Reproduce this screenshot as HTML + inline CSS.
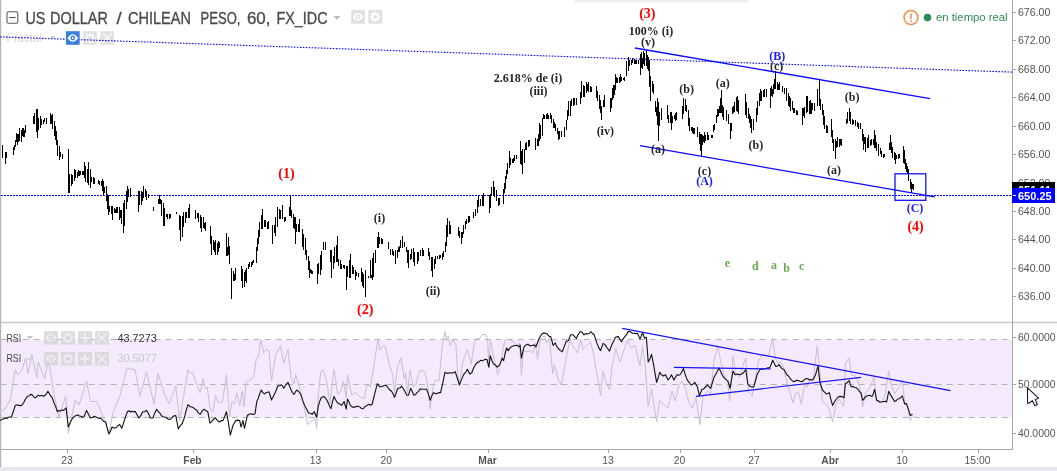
<!DOCTYPE html><html><head><meta charset="utf-8"><title>USDCLP</title><style>
html,body{margin:0;padding:0;background:#fff;}body{width:1057px;height:471px;overflow:hidden;position:relative;font-family:"Liberation Sans",sans-serif;}
svg{position:absolute;left:0;top:0;display:block;will-change:transform;transform:translateZ(0)}
text{font-family:"Liberation Sans",sans-serif}
.s{font-family:"Liberation Serif",serif;font-weight:bold;font-size:12px;text-anchor:middle;dominant-baseline:central}
.ax{font-size:10px;fill:#555}
.tm{font-size:10.3px;fill:#555;text-anchor:middle}
.tt{font-size:16.3px;fill:#4c4c4c;stroke:#4c4c4c;stroke-width:0.35px}
</style></head><body>
<svg width="1057" height="471" viewBox="0 0 1057 471">
<defs><linearGradient id="sh" x1="0" y1="0" x2="0" y2="1"><stop offset="0" stop-color="#e9e9e9"/><stop offset="1" stop-color="#ffffff"/></linearGradient></defs>
<rect width="1057" height="471" fill="#fff"/>
<rect x="574" y="0" width="174" height="4" rx="2" fill="url(#sh)"/>
<rect x="1" y="340" width="1011" height="77.5" fill="#f5e9fd"/>
<line x1="0.7" x2="1012" y1="339.5" y2="339.5" stroke="#b4b4b4" stroke-width="1" stroke-dasharray="6,5"/>
<line x1="0.7" x2="1012" y1="384.5" y2="384.5" stroke="#b4b4b4" stroke-width="1" stroke-dasharray="6,5"/>
<line x1="0.7" x2="1012" y1="417.5" y2="417.5" stroke="#b4b4b4" stroke-width="1" stroke-dasharray="6,5"/>
<line x1="0" x2="1057" y1="322.5" y2="322.5" stroke="#c8c8c8" stroke-width="1.5"/>
<line x1="0" x2="1012" y1="449.5" y2="449.5" stroke="#a8a8a8" stroke-width="1"/>
<line x1="1012.5" x2="1012.5" y1="0" y2="450" stroke="#a8a8a8" stroke-width="1"/>
<rect x="0" y="0" width="1.2" height="467" fill="#b4b4b4"/>
<rect x="0" y="467" width="1057" height="4" fill="#e6e9ee"/>
<text x="6.6" y="42" font-size="12" fill="#d8d8d8" textLength="35.4" lengthAdjust="spacingAndGlyphs">Fractal</text><path d="M49.6 36h6.2l-3.1 2.9z" fill="#d0d0d0"/>
<rect x="83.2" y="31.2" width="13.7" height="13.6" fill="#dcdcdc" fill-opacity="0.85"/><rect x="100.3" y="31.2" width="13.7" height="13.6" fill="#dcdcdc" fill-opacity="0.85"/>
<g opacity="0.8"><path d="M92.55 38.00L95.10 38.00M91.82 39.77L93.62 41.57M90.05 40.50L90.05 43.05M88.28 39.77L86.48 41.57M87.55 38.00L85.00 38.00M88.28 36.23L86.48 34.43M90.05 35.50L90.05 32.95M91.82 36.23L93.62 34.43" stroke="#fff" stroke-width="2.1" fill="none"/><circle cx="90.0" cy="38.0" r="3.6" fill="#fff"/><circle cx="90.0" cy="38.0" r="1.95" fill="#dcdcdc"/></g>
<path d="M102.7 33.5l9 9M111.7 33.5l-9 9" stroke="#fff" stroke-width="1.7" opacity="0.8"/>
<line x1="0" y1="36.9" x2="1012" y2="72.1" stroke="#0a0aff" stroke-width="1.1" stroke-dasharray="1.6,1.4"/>
<line x1="1" y1="195.5" x2="1012" y2="195.5" stroke="#0000ff" stroke-width="1" stroke-dasharray="2,1" shape-rendering="crispEdges"/>
<path d="M2.5 145V158M5.5 152V164M6.5 152V158M13.5 147V155M14.5 145V150M15.5 140V147M16.5 133V142M17.5 134V145M18.5 134V142M19.5 128V141M21.5 130V142M22.5 128V136M23.5 128V137M24.5 130V137M25.5 125V133M33.5 116V124M34.5 113V124M36.5 109V132M37.5 109V138M38.5 118V130M40.5 116V128M41.5 119V125M43.5 120V124M44.5 118V122M46.5 118V124M50.5 113V124M51.5 115V124M52.5 114V129M54.5 121V136M55.5 126V140M56.5 131V145M57.5 140V156M59.5 146V160M60.5 152V157M62.5 154V159M68.5 149V193M69.5 174V193M71.5 174V186M72.5 175V184M74.5 169V181M75.5 170V178M77.5 172V178M78.5 170V176M79.5 171V176M80.5 171V175M82.5 171V175M83.5 171V175M84.5 162V178M85.5 166V182M87.5 169V183M88.5 162V185M90.5 169V188M91.5 177V182M93.5 177V184M94.5 178V184M98.5 180V184M99.5 181V185M101.5 181V186M102.5 179V191M103.5 181V195M104.5 187V193M106.5 186V201M107.5 194V209M108.5 195V215M109.5 206V212M111.5 206V214M112.5 206V220M114.5 208V213M115.5 209V213M116.5 207V213M117.5 207V213M119.5 207V220M120.5 210V218M121.5 210V224M123.5 203V233M124.5 200V226M126.5 191V209M127.5 186V202M128.5 189V197M130.5 188V197M138.5 191V212M139.5 191V205M141.5 191V205M142.5 192V201M143.5 186V198M145.5 189V197M146.5 191V200M148.5 194V198M153.5 207V211M158.5 199V204M159.5 195V204M160.5 199V204M161.5 200V216M163.5 203V226M164.5 208V226M166.5 214V217M167.5 214V219M169.5 214V219M170.5 214V218M176.5 212V214M176.5 212V214M179.5 215V230M180.5 216V241M182.5 216V237M183.5 212V227M185.5 212V223M186.5 212V218M188.5 208V218M189.5 204V218M195.5 210V219M197.5 213V218M198.5 213V222M200.5 215V228M201.5 217V232M203.5 217V228M204.5 223V229M205.5 222V231M210.5 226V244M211.5 236V255M213.5 240V250M214.5 242V252M215.5 240V255M217.5 243V255M218.5 241V252M219.5 242V248M226.5 233V256M227.5 247V256M228.5 237V255M229.5 246V264M231.5 268V299M233.5 271V281M234.5 274V281M235.5 268V280M241.5 266V281M242.5 269V288M244.5 272V287M245.5 270V281M246.5 268V283M248.5 264V269M249.5 262V267M251.5 262V267M252.5 261V265M253.5 260V263M256.5 247V263M257.5 238V251M258.5 230V244M259.5 222V237M261.5 215V229M262.5 209V229M264.5 220V227M265.5 220V227M267.5 222V229M268.5 221V229M272.5 225V244M274.5 225V233M275.5 217V236M277.5 207V227M279.5 209V219M280.5 210V219M282.5 205V219M284.5 217V222M285.5 217V221M289.5 207V216M290.5 196V216M291.5 210V218M293.5 214V228M294.5 217V229M295.5 217V244M296.5 224V232M298.5 224V232M299.5 219V232M302.5 229V247M303.5 234V250M305.5 238V255M306.5 250V260M308.5 256V270M309.5 261V278M310.5 269V273M311.5 270V274M312.5 271V274M317.5 264V284M318.5 263V274M320.5 255V275M321.5 251V270M323.5 242V250M325.5 242V250M330.5 250V262M331.5 250V278M333.5 256V269M334.5 247V263M336.5 245V262M337.5 236V262M338.5 259V266M340.5 260V269M341.5 264V269M343.5 265V268M344.5 265V269M346.5 266V290M347.5 266V277M349.5 260V278M350.5 254V278M352.5 265V274M353.5 267V274M355.5 270V280M356.5 272V276M358.5 273V277M361.5 268V282M362.5 272V286M363.5 274V288M365.5 270V297M368.5 276V278M370.5 275V278M371.5 275V278M370.5 260V277M372.5 258V280M373.5 253V277M375.5 250V263M377.5 237V248M378.5 232V248M379.5 237V244M381.5 238V244M382.5 239V244M388.5 242V249M390.5 249V255M392.5 249V255M393.5 251V256M395.5 250V264M397.5 250V258M398.5 247V252M399.5 246V252M400.5 240V248M402.5 236V248M404.5 242V247M406.5 247V252M407.5 250V263M408.5 250V268M410.5 254V260M411.5 249V259M413.5 248V262M414.5 252V266M417.5 252V264M418.5 252V261M420.5 250V256M422.5 248V256M423.5 250V256M428.5 248V256M429.5 252V260M431.5 257V271M432.5 257V277M434.5 259V269M435.5 256V264M437.5 256V259M439.5 255V259M440.5 255V258M442.5 253V260M443.5 251V257M445.5 242V252M446.5 238V246M446.5 225V238M447.5 218V237M449.5 221V234M450.5 225V234M458.5 227V236M459.5 231V238M461.5 232V244M462.5 232V238M463.5 225V234M465.5 221V229M466.5 219V224M468.5 216V223M469.5 216V222M473.5 212V218M475.5 209V216M477.5 200V213M478.5 195V207M480.5 199V206M482.5 196V206M483.5 193V206M489.5 195V213M490.5 194V208M491.5 187V196M493.5 181V196M494.5 187V197M496.5 190V201M498.5 198V206M499.5 198V205M503.5 189V204M504.5 183V193M505.5 176V189M506.5 170V179M507.5 163V174M509.5 151V168M510.5 158V165M512.5 159V163M513.5 158V163M514.5 155V161M516.5 155V159M520.5 141V164M521.5 151V165M522.5 149V174M524.5 149V163M525.5 143V150M526.5 142V150M528.5 140V147M529.5 140V146M535.5 138V150M537.5 139V146M538.5 134V146M539.5 123V141M540.5 125V139M542.5 118V136M543.5 114V119M544.5 115V119M546.5 114V119M547.5 113V119M548.5 115V119M550.5 113V119M551.5 115V123M553.5 119V128M554.5 122V128M555.5 124V131M557.5 128V134M558.5 131V140M559.5 131V139M561.5 131V137M564.5 127V137M566.5 120V130M567.5 110V120M568.5 101V116M570.5 101V116M571.5 99V106M573.5 98V106M574.5 98V105M576.5 98V105M580.5 92V104M581.5 81V98M583.5 85V97M584.5 86V97M586.5 82V93M587.5 84V91M588.5 82V92M590.5 86V92M591.5 87V92M596.5 86V98M597.5 91V101M599.5 95V109M600.5 100V113M601.5 106V120M603.5 100V107M604.5 95V107M610.5 98V112M611.5 98V108M612.5 88V100M614.5 85V95M613.5 85V98M615.5 74V90M616.5 77V83M617.5 78V83M619.5 77V83M620.5 74V82M621.5 77V81M623.5 78V80M624.5 77V81M626.5 61V76M628.5 57V71M629.5 60V66M631.5 60V65M632.5 58V63M634.5 59V64M635.5 60V64M636.5 60V64M638.5 60V64M640.5 54V75M641.5 52V68M642.5 58V69M643.5 51V64M644.5 53V66M646.5 50V66M647.5 55V69M648.5 57V71M649.5 60V74M649.5 73V87M650.5 76V101M652.5 81V92M653.5 84V94M655.5 101V112M656.5 107V116M657.5 98V125M658.5 102V141M659.5 112V126M661.5 108V120M667.5 105V119M668.5 115V123M670.5 112V123M671.5 112V130M672.5 116V123M674.5 115V119M675.5 113V121M676.5 112V120M682.5 106V119M683.5 98V114M685.5 99V111M686.5 105V112M688.5 110V126M689.5 118V131M691.5 127V131M692.5 127V133M693.5 128V134M694.5 128V134M697.5 127V137M699.5 132V144M700.5 134V151M701.5 134V156M702.5 135V145M703.5 136V142M704.5 132V143M705.5 135V141M707.5 132V140M708.5 135V140M711.5 135V138M712.5 135V138M713.5 125V132M714.5 124V130M716.5 115V123M717.5 109V117M718.5 109V116M719.5 106V113M720.5 98V113M721.5 90V113M722.5 105V117M723.5 107V120M726.5 110V121M728.5 114V124M730.5 123V139M731.5 123V131M732.5 107V114M733.5 106V113M734.5 102V112M736.5 97V111M737.5 96V112M738.5 100V114M745.5 94V115M746.5 102V118M748.5 108V119M749.5 114V123M750.5 116V128M751.5 119V133M753.5 119V130M756.5 108V122M757.5 101V115M759.5 93V106M760.5 89V101M761.5 91V101M763.5 90V97M764.5 89V97M766.5 89V97M770.5 88V108M771.5 86V96M772.5 89V97M773.5 84V94M774.5 79V89M775.5 71V89M777.5 82V90M778.5 84V90M779.5 82V90M782.5 86V92M784.5 88V94M786.5 88V101M788.5 93V106M789.5 96V107M790.5 98V111M792.5 101V110M793.5 108V113M794.5 108V113M796.5 110V115M797.5 111V115M802.5 108V125M803.5 108V116M804.5 107V118M806.5 96V113M807.5 96V112M809.5 101V114M810.5 100V114M811.5 103V114M812.5 103V110M814.5 103V111M817.5 89V106M819.5 79V106M820.5 99V110M822.5 104V115M823.5 110V125M824.5 116V129M826.5 125V133M827.5 126V133M831.5 119V137M832.5 130V143M833.5 139V151M835.5 139V159M836.5 141V148M837.5 137V147M839.5 139V147M840.5 139V145M841.5 139V146M846.5 119V124M847.5 112V123M849.5 108V121M850.5 112V124M852.5 119V125M853.5 120V124M855.5 120V126M857.5 122V127M858.5 123V129M860.5 123V129M862.5 129V141M863.5 134V150M864.5 137V144M865.5 137V152M867.5 138V148M868.5 135V148M870.5 140V146M871.5 139V145M873.5 139V145M874.5 130V148M875.5 135V148M876.5 142V151M878.5 144V156M880.5 148V154M881.5 151V157M883.5 154V158M884.5 154V157M889.5 143V150M890.5 135V150M891.5 142V153M892.5 147V158M894.5 152V160M895.5 153V164M896.5 155V159M898.5 154V159M899.5 154V158M903.5 146V163M904.5 150V164M905.5 159V169M906.5 163V172M907.5 166V174M908.5 169V181M910.5 179V189M911.5 182V193M912.5 184V189M913.5 184V190" stroke="#000" stroke-width="1" fill="none" shape-rendering="crispEdges"/>
<line x1="635" y1="48" x2="930" y2="98.6" stroke="#0a0aff" stroke-width="1.3"/>
<line x1="640" y1="145.6" x2="934.7" y2="196.8" stroke="#0a0aff" stroke-width="1.3"/>
<rect x="895" y="173.8" width="30.8" height="26.5" fill="none" stroke="#1111ee" stroke-width="1.3"/>
<polyline points="0.0,411.7 5.0,409.0 10.2,400.0 15.3,369.7 17.8,374.8 21.7,371.0 25.5,358.0 28.0,373.5 31.8,354.4 36.9,377.3 38.2,362.0 44.6,378.6 48.4,359.5 53.5,391.0 58.6,416.8 65.7,396.4 68.3,433.4 75.2,400.0 79.0,405.0 86.6,381.0 90.4,401.5 96.8,401.5 102.0,414.0 109.0,432.0 113.4,411.7 119.7,396.4 126.9,368.4 135.0,369.7 140.0,396.4 146.5,372.0 154.0,404.0 158.0,373.5 164.3,394.0 169.4,404.0 175.8,386.0 179.6,420.6 188.0,369.7 190.0,373.5 192.5,372.2 196.4,383.7 200.2,392.6 203.2,378.6 205.3,388.8 207.3,387.5 209.9,407.9 212.9,411.7 215.5,395.2 218.5,402.8 222.6,401.5 226.4,374.8 229.5,416.8 232.0,401.5 234.6,404.0 236.6,392.6 239.7,405.4 242.2,391.3 244.0,406.6 246.0,382.4 249.9,379.9 253.7,377.3 256.2,359.5 258.3,357.0 260.8,339.9 263.9,353.0 265.9,349.3 269.0,350.6 271.5,381.0 275.4,355.7 280.4,345.5 283.8,363.3 288.0,349.3 291.0,377.3 294.0,383.7 295.7,374.8 299.6,386.8 303.4,404.0 307.7,424.5 312.3,420.6 314.8,418.0 316.6,428.3 318.2,396.4 320.7,372.2 323.0,369.7 326.3,379.9 330.0,402.8 334.0,369.7 337.8,393.9 340.8,391.3 343.4,381.0 346.2,397.7 347.5,374.8 351.8,395.2 355.6,392.6 359.4,396.4 364.0,399.0 367.0,385.0 370.4,386.8 374.0,364.6 378.0,339.0 379.8,350.0 383.8,345.5 385.6,348.0 389.0,363.3 392.7,374.8 394.5,393.9 397.3,367.1 401.0,358.2 404.2,378.6 405.5,373.0 407.5,392.6 410.0,369.7 413.0,386.8 415.7,385.0 418.2,374.8 420.8,369.7 424.6,372.2 427.0,381.0 430.2,409.2 433.5,383.7 436.0,379.9 439.0,381.0 442.4,345.5 445.0,331.5 446.8,340.4 448.3,335.8 450.0,345.5 452.6,339.9 455.9,344.2 457.7,374.8 459.5,382.4 462.8,362.0 467.4,349.3 471.2,363.8 474.3,342.9 476.8,338.3 479.4,339.1 482.0,334.5 485.7,334.5 487.5,339.1 489.0,367.1 490.3,339.1 493.4,355.7 497.7,374.8 501.0,360.8 504.8,340.4 507.4,339.1 510.4,340.4 513.8,341.7 517.6,345.5 519.6,342.9 521.4,374.8 523.4,350.6 526.5,351.8 530.3,350.6 532.9,353.1 535.4,342.9 537.5,359.5 540.0,339.1 544.3,335.8 546.9,342.9 549.4,337.8 552.7,373.5 554.5,364.6 558.3,379.9 561.4,385.0 564.7,365.9 568.0,349.3 570.0,338.3 572.5,345.5 577.6,353.1 580.7,339.1 582.7,349.3 586.6,345.5 590.4,341.7 593.4,353.1 596.8,373.5 600.6,395.2 603.1,371.0 605.7,381.0 609.5,390.0 612.0,367.1 615.9,348.0 619.7,362.0 622.2,355.7 627.3,340.4 631.0,348.0 635.0,345.5 640.0,365.9 642.6,345.5 645.2,365.9 648.2,406.6 651.5,388.8 656.6,421.9 659.7,400.3 663.0,404.0 668.0,407.9 672.0,391.3 675.0,401.0 679.0,385.0 682.0,381.0 685.2,387.5 688.5,401.5 692.3,407.9 696.0,397.7 700.0,424.5 703.0,396.4 707.6,391.3 710.6,393.9 714.0,360.8 717.8,345.5 720.3,359.5 724.0,374.8 727.5,381.0 729.7,401.5 733.0,356.2 735.6,373.5 739.4,377.3 743.2,364.6 745.8,358.2 748.3,391.3 752.2,396.4 756.0,374.8 758.5,360.8 762.4,354.4 765.0,355.7 769.0,354.4 772.7,337.8 775.3,358.2 777.8,363.3 780.4,362.0 783.0,365.4 786.8,382.4 790.0,392.6 793.0,402.8 796.2,392.6 798.7,392.6 801.3,404.0 804.6,383.7 807.0,387.5 809.7,378.6 813.0,381.0 817.3,345.5 819.9,371.0 822.4,401.5 825.7,404.0 828.8,407.9 832.6,421.9 836.0,404.0 839.0,399.0 843.6,406.6 845.4,363.3 849.2,358.2 851.2,374.8 855.5,376.0 859.4,385.0 862.7,406.6 865.7,392.6 869.6,388.8 874.0,377.3 876.7,401.5 881.0,402.8 884.8,396.4 888.7,371.0 891.2,385.0 894.5,393.9 898.9,387.5 902.2,379.9 904.7,401.5 907.8,407.9 910.3,420.6 912.4,415.5" fill="none" stroke="#c9bfd0" stroke-width="1"/>
<polyline points="0.0,420.6 1.7,419.6 3.3,419.0 5.0,418.0 6.6,418.5 8.2,417.3 9.9,417.1 11.5,416.8 13.4,411.3 15.3,405.4 16.9,404.8 18.5,405.4 20.1,405.6 21.7,405.4 23.6,402.7 25.5,399.0 27.2,396.7 28.9,395.6 30.6,394.4 32.3,394.8 34.0,397.2 35.7,397.7 38.2,395.2 39.9,395.9 41.6,395.2 43.3,396.4 44.8,395.6 46.4,393.8 47.9,391.3 50.0,394.8 52.2,397.7 53.9,402.6 55.6,406.4 57.3,411.7 58.9,410.5 60.5,411.1 62.1,409.9 63.7,410.4 66.2,407.9 68.3,427.0 70.4,421.9 72.6,418.0 74.5,416.3 76.4,415.5 77.9,414.9 79.4,416.0 81.0,416.2 82.5,417.2 84.0,416.8 86.6,410.4 88.5,414.2 90.4,418.0 92.3,417.4 94.3,416.3 95.8,416.9 97.4,417.8 98.9,418.1 100.5,418.4 102.0,419.4 103.8,421.5 105.7,421.9 107.3,428.8 109.0,434.0 110.5,431.1 112.0,427.0 114.0,427.9 116.0,428.0 117.8,425.9 119.7,424.5 121.8,428.3 123.7,422.3 125.5,416.9 127.4,411.7 128.9,410.8 130.4,412.0 132.0,411.2 133.5,411.9 135.0,411.2 136.9,414.4 138.9,418.0 140.8,415.7 142.7,411.7 144.6,411.7 146.5,410.4 148.4,413.3 150.3,418.0 152.9,418.0 154.8,413.1 156.7,409.2 158.3,411.8 159.8,412.9 161.4,415.8 163.0,416.8 164.6,417.3 166.2,417.3 167.8,419.0 169.4,419.4 171.0,418.9 172.6,417.0 174.2,415.7 175.8,415.5 178.3,429.0 180.0,425.9 181.7,424.2 183.4,420.6 184.9,415.7 186.5,409.2 188.0,404.6 190.0,406.6 191.7,407.0 193.3,407.6 195.0,409.2 196.7,410.1 198.5,413.1 200.2,414.3 202.1,411.2 204.0,409.2 205.9,410.6 207.8,411.7 209.9,423.2 211.8,421.4 213.6,419.2 215.5,418.0 217.4,420.4 219.3,422.0 221.2,420.6 223.0,420.6 224.7,416.4 226.4,411.7 228.4,422.7 230.3,435.0 231.8,429.6 233.3,424.5 235.9,420.6 237.8,420.1 239.7,420.6 241.0,427.0 243.0,420.6 244.5,428.3 247.3,415.5 249.2,414.2 251.0,413.8 253.0,414.6 255.0,413.8 256.8,401.5 258.3,398.2 259.8,393.5 261.3,390.0 262.9,392.6 264.4,393.9 265.9,392.7 267.5,392.3 269.0,391.8 271.5,400.0 274.0,395.0 275.9,391.0 277.9,385.7 279.8,385.6 281.7,385.0 283.8,388.3 285.9,384.6 288.0,382.4 290.6,388.8 292.3,392.5 294.0,394.4 295.5,391.7 297.0,390.0 298.9,391.8 300.8,394.4 302.7,400.4 304.6,405.4 306.6,408.9 308.5,413.0 310.4,413.3 312.3,414.3 314.3,411.7 316.6,417.3 318.2,406.6 319.7,401.4 321.2,397.7 323.8,396.4 325.7,398.2 327.6,401.5 329.2,405.2 330.9,408.7 332.4,402.1 334.0,396.4 335.6,399.8 337.3,402.8 339.5,403.9 341.6,405.4 344.1,401.5 346.2,409.2 347.5,399.0 349.0,402.1 350.5,405.4 352.4,407.1 354.3,407.1 356.2,406.6 358.2,406.1 359.9,407.1 361.5,408.5 363.2,408.7 365.1,406.5 367.0,405.4 368.7,404.3 370.5,405.2 372.2,404.0 374.7,393.9 377.3,383.7 379.8,386.8 381.7,386.8 383.6,385.7 385.1,385.2 386.7,385.7 389.0,389.3 391.5,391.3 393.0,393.7 394.5,397.2 396.1,393.2 397.8,388.3 399.8,388.0 401.7,386.2 404.2,390.0 406.8,395.2 408.5,395.2 410.6,388.3 412.2,391.2 413.9,395.2 415.4,394.7 416.9,392.6 418.6,391.4 420.3,388.8 421.8,389.2 423.3,389.3 425.0,389.2 426.6,389.3 428.4,394.1 430.2,400.3 431.9,395.6 433.5,392.6 435.4,393.8 437.3,393.4 439.0,392.5 440.6,392.6 442.8,382.8 445.0,372.2 447.5,373.5 449.4,372.8 451.3,373.0 453.2,372.9 455.2,371.7 457.4,378.5 459.5,385.0 461.1,380.4 462.8,376.6 464.3,373.5 465.9,372.1 467.4,369.2 469.7,374.0 471.7,373.0 473.6,368.0 475.5,364.6 477.2,362.7 478.9,361.8 480.6,360.3 482.2,360.7 483.8,360.1 485.4,359.3 487.0,359.5 488.8,367.1 490.3,355.7 491.9,360.5 493.4,363.8 495.3,364.9 497.2,367.1 499.7,364.6 502.3,358.2 503.6,360.8 505.1,353.5 506.6,348.0 508.2,350.6 509.7,348.3 511.2,346.8 513.1,346.1 515.0,345.5 517.0,345.4 518.9,346.8 520.1,345.0 521.4,358.2 524.0,346.8 525.9,344.9 527.8,344.2 530.3,346.0 532.2,345.3 534.1,345.0 535.9,346.8 537.5,342.7 539.2,338.3 541.8,334.0 543.7,332.9 545.6,333.2 547.3,334.1 549.0,336.2 550.7,336.6 553.2,345.5 555.3,342.9 556.8,346.6 558.3,348.5 560.2,350.4 562.2,351.8 564.1,347.1 566.0,341.7 568.5,340.4 570.6,334.8 573.0,334.8 574.7,336.7 576.4,338.3 578.3,334.3 580.2,331.5 582.1,332.3 584.0,334.8 585.9,333.5 587.8,334.0 589.3,333.5 590.9,331.5 592.5,333.5 594.2,334.8 596.8,342.9 598.7,347.6 600.6,350.6 603.1,343.4 605.0,344.6 606.9,347.5 609.5,351.1 612.0,344.2 613.7,341.0 615.4,337.3 616.9,336.9 618.4,336.6 620.0,339.6 621.5,341.7 623.1,338.8 624.8,336.6 626.4,334.9 628.0,331.5 630.2,331.6 632.4,333.2 634.1,333.3 635.8,333.6 637.5,333.2 640.0,339.1 642.6,332.7 644.6,338.3 646.4,337.3 648.2,362.0 649.9,358.9 651.5,354.4 653.6,364.6 655.1,373.9 656.6,382.4 658.2,377.7 659.7,372.2 661.4,374.6 663.0,376.0 665.5,374.8 668.0,379.9 669.7,378.1 671.4,374.8 674.0,379.9 675.5,377.1 677.0,374.8 678.5,375.1 680.0,374.8 681.7,372.3 683.4,368.4 685.3,374.8 687.2,379.9 689.1,382.3 691.0,385.0 692.9,384.2 694.8,382.4 697.4,386.8 699.4,395.9 702.0,389.3 703.5,389.1 705.0,387.5 707.6,385.0 709.1,386.8 710.6,388.3 712.3,383.0 714.0,377.3 716.5,373.0 719.0,367.9 720.7,371.5 722.4,375.5 723.9,377.4 725.4,379.1 728.0,381.1 730.0,388.3 731.5,379.8 733.0,371.0 735.0,374.8 737.2,374.0 739.4,374.8 741.3,374.2 743.2,373.0 745.8,369.7 747.8,383.7 749.4,386.1 751.0,386.8 752.5,387.2 754.0,386.2 755.6,380.5 757.3,374.0 759.8,369.7 761.7,369.1 763.6,368.9 765.5,368.8 767.5,367.9 769.7,367.9 771.2,364.2 772.7,360.3 774.2,363.2 775.8,366.4 777.4,366.1 779.0,364.6 781.7,368.4 784.2,369.7 786.8,374.8 788.7,376.2 790.6,379.1 792.5,380.9 794.4,381.7 796.3,380.3 798.2,380.6 800.1,381.3 802.0,381.7 804.0,380.1 805.9,378.6 807.8,378.8 809.7,379.9 811.6,379.9 813.5,379.1 815.5,374.8 818.0,365.9 819.9,382.4 822.4,390.0 824.3,391.9 826.2,393.9 827.8,393.5 829.3,392.6 831.0,399.8 832.6,405.4 834.5,401.8 836.4,399.0 838.3,396.8 840.3,396.4 842.1,396.7 844.0,397.7 845.4,383.7 847.3,382.5 849.2,380.6 851.2,386.8 853.0,386.6 854.8,387.5 856.4,387.8 858.0,389.3 859.5,391.7 861.0,392.6 862.7,400.3 864.2,398.6 865.7,396.4 867.7,395.7 869.6,395.2 871.1,396.3 872.6,395.9 874.6,389.3 876.7,400.3 878.2,400.8 879.7,402.0 881.7,402.0 883.6,401.5 885.1,401.2 886.6,402.0 888.7,391.3 891.2,395.9 892.9,398.6 894.5,401.5 896.0,400.8 897.6,399.0 899.1,398.7 900.7,397.6 902.2,395.9 904.7,404.0 906.5,403.6 908.4,409.3 910.3,415.5 912.4,414.3" fill="none" stroke="#111" stroke-width="1.1" stroke-linejoin="round"/>
<line x1="622.2" y1="328.4" x2="950.5" y2="390.6" stroke="#1414f5" stroke-width="1.2"/>
<line x1="674" y1="367.4" x2="770.5" y2="368.9" stroke="#1414f5" stroke-width="1.2"/>
<line x1="696" y1="396.4" x2="861" y2="377.3" stroke="#1414f5" stroke-width="1.2"/>
<line x1="1013" x2="1016" y1="12.5" y2="12.5" stroke="#a8a8a8"/>
<text class="ax" x="1017.9" y="16.0" textLength="32.4" lengthAdjust="spacingAndGlyphs">676.00</text>
<line x1="1013" x2="1016" y1="40.5" y2="40.5" stroke="#a8a8a8"/>
<text class="ax" x="1017.9" y="44.4" textLength="32.4" lengthAdjust="spacingAndGlyphs">672.00</text>
<line x1="1013" x2="1016" y1="69.5" y2="69.5" stroke="#a8a8a8"/>
<text class="ax" x="1017.9" y="72.8" textLength="32.4" lengthAdjust="spacingAndGlyphs">668.00</text>
<line x1="1013" x2="1016" y1="97.5" y2="97.5" stroke="#a8a8a8"/>
<text class="ax" x="1017.9" y="101.2" textLength="32.4" lengthAdjust="spacingAndGlyphs">664.00</text>
<line x1="1013" x2="1016" y1="126.5" y2="126.5" stroke="#a8a8a8"/>
<text class="ax" x="1017.9" y="129.6" textLength="32.4" lengthAdjust="spacingAndGlyphs">660.00</text>
<line x1="1013" x2="1016" y1="154.5" y2="154.5" stroke="#a8a8a8"/>
<text class="ax" x="1017.9" y="158.1" textLength="32.4" lengthAdjust="spacingAndGlyphs">656.00</text>
<line x1="1013" x2="1016" y1="182.5" y2="182.5" stroke="#a8a8a8"/>
<text class="ax" x="1017.9" y="186.5" textLength="32.4" lengthAdjust="spacingAndGlyphs">652.00</text>
<line x1="1013" x2="1016" y1="211.5" y2="211.5" stroke="#a8a8a8"/>
<text class="ax" x="1017.9" y="214.9" textLength="32.4" lengthAdjust="spacingAndGlyphs">648.00</text>
<line x1="1013" x2="1016" y1="239.5" y2="239.5" stroke="#a8a8a8"/>
<text class="ax" x="1017.9" y="243.3" textLength="32.4" lengthAdjust="spacingAndGlyphs">644.00</text>
<line x1="1013" x2="1016" y1="268.5" y2="268.5" stroke="#a8a8a8"/>
<text class="ax" x="1017.9" y="271.7" textLength="32.4" lengthAdjust="spacingAndGlyphs">640.00</text>
<line x1="1013" x2="1016" y1="296.5" y2="296.5" stroke="#a8a8a8"/>
<text class="ax" x="1017.9" y="300.1" textLength="32.4" lengthAdjust="spacingAndGlyphs">636.00</text>
<text class="ax" x="1017.9" y="340.5" textLength="37.6" lengthAdjust="spacingAndGlyphs">60.0000</text>
<line x1="1013" x2="1016" y1="337.5" y2="337.5" stroke="#a8a8a8"/>
<text class="ax" x="1017.9" y="388.0" textLength="37.6" lengthAdjust="spacingAndGlyphs">50.0000</text>
<line x1="1013" x2="1016" y1="384.5" y2="384.5" stroke="#a8a8a8"/>
<text class="ax" x="1017.9" y="436.5" textLength="37.6" lengthAdjust="spacingAndGlyphs">40.0000</text>
<line x1="1013" x2="1016" y1="433.5" y2="433.5" stroke="#a8a8a8"/>
<rect x="1012" y="182" width="43" height="8" fill="#000"/>
<text x="1018" y="194" font-size="11" font-weight="bold" fill="#fff">651.11</text>
<rect x="1012" y="188" width="43" height="15" fill="#0000ff"/>
<line x1="1013" x2="1016" y1="195.5" y2="195.5" stroke="#fff"/>
<text x="1018" y="199.7" font-size="11" font-weight="bold" fill="#fff">650.25</text>
<text class="tm" x="66.9" y="463.5">23</text>
<line x1="67.5" x2="67.5" y1="450" y2="453" stroke="#a8a8a8"/>
<text class="tm" x="192.5" y="463.5" font-weight="bold">Feb</text>
<line x1="193.5" x2="193.5" y1="450" y2="453" stroke="#a8a8a8"/>
<text class="tm" x="315.5" y="463.5">13</text>
<line x1="316.5" x2="316.5" y1="450" y2="453" stroke="#a8a8a8"/>
<text class="tm" x="386.3" y="463.5">20</text>
<line x1="386.5" x2="386.5" y1="450" y2="453" stroke="#a8a8a8"/>
<text class="tm" x="487.5" y="463.5" font-weight="bold">Mar</text>
<line x1="488.5" x2="488.5" y1="450" y2="453" stroke="#a8a8a8"/>
<text class="tm" x="608.0" y="463.5">13</text>
<line x1="608.5" x2="608.5" y1="450" y2="453" stroke="#a8a8a8"/>
<text class="tm" x="679.5" y="463.5">20</text>
<line x1="680.5" x2="680.5" y1="450" y2="453" stroke="#a8a8a8"/>
<text class="tm" x="754.1" y="463.5">27</text>
<line x1="754.5" x2="754.5" y1="450" y2="453" stroke="#a8a8a8"/>
<text class="tm" x="830.1" y="463.5" font-weight="bold">Abr</text>
<line x1="830.5" x2="830.5" y1="450" y2="453" stroke="#a8a8a8"/>
<text class="tm" x="902.0" y="463.5">10</text>
<line x1="902.5" x2="902.5" y1="450" y2="453" stroke="#a8a8a8"/>
<text class="tm" x="977.5" y="463.5">15:00</text>
<line x1="978.5" x2="978.5" y1="450" y2="453" stroke="#a8a8a8"/>
<text class="s" x="647.3" y="13.9" fill="#ff0000" style="font-size:14px">(3)</text>
<text class="s" x="651.0" y="31.3" fill="#262626" style="font-size:12px">100% (i)</text>
<text class="s" x="648.1" y="42.2" fill="#262626" style="font-size:12px">(v)</text>
<text class="s" x="528.0" y="78.4" fill="#262626" style="font-size:12px">2.618% de (i)</text>
<text class="s" x="538.5" y="90.5" fill="#262626" style="font-size:12px">(iii)</text>
<text class="s" x="286.4" y="173.1" fill="#ff0000" style="font-size:14px">(1)</text>
<text class="s" x="365.2" y="309.2" fill="#ff0000" style="font-size:14px">(2)</text>
<text class="s" x="379.5" y="218.1" fill="#262626" style="font-size:12px">(i)</text>
<text class="s" x="433.0" y="291.1" fill="#262626" style="font-size:12px">(ii)</text>
<text class="s" x="605.3" y="131.2" fill="#262626" style="font-size:12px">(iv)</text>
<text class="s" x="657.9" y="148.9" fill="#262626" style="font-size:12px">(a)</text>
<text class="s" x="686.6" y="89.0" fill="#262626" style="font-size:12px">(b)</text>
<text class="s" x="722.8" y="83.0" fill="#262626" style="font-size:12px">(a)</text>
<text class="s" x="704.5" y="170.7" fill="#262626" style="font-size:12px">(c)</text>
<text class="s" x="704.5" y="181.0" fill="#1a1aff" style="font-size:12px">(A)</text>
<text class="s" x="755.9" y="144.6" fill="#262626" style="font-size:12px">(b)</text>
<text class="s" x="777.3" y="56.3" fill="#1a1aff" style="font-size:12px">(B)</text>
<text class="s" x="776.7" y="65.6" fill="#262626" style="font-size:12px">(c)</text>
<text class="s" x="852.1" y="97.1" fill="#262626" style="font-size:12px">(b)</text>
<text class="s" x="834.0" y="169.6" fill="#262626" style="font-size:12px">(a)</text>
<text class="s" x="915.0" y="207.7" fill="#1a1aff" style="font-size:12px">(C)</text>
<text class="s" x="915.6" y="226.4" fill="#ff0000" style="font-size:14px">(4)</text>
<text class="s" x="727.5" y="267.0" fill="#6aa84f" style="dominant-baseline:alphabetic">e</text>
<text class="s" x="755.4" y="269.9" fill="#6aa84f" style="dominant-baseline:alphabetic">d</text>
<text class="s" x="774.0" y="268.9" fill="#6aa84f" style="dominant-baseline:alphabetic">a</text>
<text class="s" x="786.5" y="271.8" fill="#6aa84f" style="dominant-baseline:alphabetic">b</text>
<text class="s" x="801.7" y="269.9" fill="#6aa84f" style="dominant-baseline:alphabetic">c</text>
<rect x="7" y="11.8" width="10.8" height="11.4" rx="1.5" fill="#fff" stroke="#5a5a5a" stroke-width="1.1"/><line x1="9" x2="15.8" y1="17.5" y2="17.5" stroke="#5a5a5a" stroke-width="1.1"/>
<text class="tt" x="25.5" y="23.8" textLength="19.9" lengthAdjust="spacingAndGlyphs">US</text>
<text class="tt" x="50.0" y="23.8" textLength="57.9" lengthAdjust="spacingAndGlyphs">DOLLAR</text>
<text class="tt" x="116.4" y="23.8" textLength="5.1" lengthAdjust="spacingAndGlyphs">/</text>
<text class="tt" x="128.0" y="23.8" textLength="63.0" lengthAdjust="spacingAndGlyphs">CHILEAN</text>
<text class="tt" x="200.6" y="23.8" textLength="39.9" lengthAdjust="spacingAndGlyphs">PESO,</text>
<text class="tt" x="246.9" y="23.8" textLength="23.6" lengthAdjust="spacingAndGlyphs">60,</text>
<text class="tt" x="276.5" y="23.8" textLength="51.0" lengthAdjust="spacingAndGlyphs">FX_IDC</text>
<path d="M333.3 15.9h7.3l-3.65 3.9z" fill="#b8bcc0"/>
<rect x="351.2" y="10.1" width="13.7" height="13.6" fill="#e0e0e0"/><rect x="368.3" y="10.1" width="13.7" height="13.6" fill="#e0e0e0"/>
<g opacity="1"><path d="M352.8 16.9Q358.1 9.3 363.4 16.9Q358.1 24.5 352.8 16.9Z" fill="#fff"/><circle cx="358.1" cy="16.9" r="2.4" fill="#e0e0e0"/><circle cx="358.1" cy="16.9" r="1.05" fill="#fff"/></g>
<g opacity="1"><path d="M377.65 16.90L380.20 16.90M376.92 18.67L378.72 20.47M375.15 19.40L375.15 21.95M373.38 18.67L371.58 20.47M372.65 16.90L370.10 16.90M373.38 15.13L371.58 13.33M375.15 14.40L375.15 11.85M376.92 15.13L378.72 13.33" stroke="#fff" stroke-width="2.1" fill="none"/><circle cx="375.1" cy="16.9" r="3.6" fill="#fff"/><circle cx="375.1" cy="16.9" r="1.95" fill="#e0e0e0"/></g>
<rect x="65.9" y="31.2" width="13.8" height="13.6" fill="#3b7fdc"/>
<g opacity="1"><path d="M67.5 38.0Q72.8 30.4 78.1 38.0Q72.8 45.6 67.5 38.0Z" fill="#fff"/><circle cx="72.8" cy="38.0" r="2.4" fill="#3b7fdc"/><circle cx="72.8" cy="38.0" r="1.05" fill="#fff"/></g>
<circle cx="911" cy="17.6" r="7" fill="#fff" stroke="#f0904a" stroke-width="1.5"/><rect x="910.2" y="13.5" width="1.6" height="5.5" fill="#f0904a"/><rect x="910.2" y="20.2" width="1.6" height="1.7" fill="#f0904a"/>
<circle cx="927.5" cy="17.5" r="3.8" fill="#2e8b57"/>
<text x="936" y="20.7" font-size="11.3" fill="#2e8b57">en tiempo real</text>
<text x="6.4" y="342.0" font-size="11" fill="#444" textLength="14.8" lengthAdjust="spacingAndGlyphs">RSI</text>
<path d="M26.5 336.3h6.8l-3.4 2.6z" fill="#bdbdbd"/>
<rect x="44" y="331.1" width="14" height="13.6" fill="#d4d4d4" fill-opacity="0.8"/>
<g opacity="0.9"><path d="M45.7 337.9Q51.0 330.3 56.3 337.9Q51.0 345.5 45.7 337.9Z" fill="#f3ecf7"/><circle cx="51.0" cy="337.9" r="2.4" fill="#d6d2d9"/><circle cx="51.0" cy="337.9" r="1.05" fill="#f3ecf7"/></g>
<rect x="61" y="331.1" width="14" height="13.6" fill="#d4d4d4" fill-opacity="0.8"/>
<g opacity="0.9"><path d="M70.50 337.90L73.05 337.90M69.77 339.67L71.57 341.47M68.00 340.40L68.00 342.95M66.23 339.67L64.43 341.47M65.50 337.90L62.95 337.90M66.23 336.13L64.43 334.33M68.00 335.40L68.00 332.85M69.77 336.13L71.57 334.33" stroke="#f3ecf7" stroke-width="2.1" fill="none"/><circle cx="68.0" cy="337.9" r="3.6" fill="#f3ecf7"/><circle cx="68.0" cy="337.9" r="1.95" fill="#d6d2d9"/></g>
<rect x="78" y="331.1" width="14" height="13.6" fill="#d4d4d4" fill-opacity="0.8"/>
<path d="M85.0 333.1v9.6M80.2 337.9h9.6" stroke="#f3ecf7" stroke-width="2" opacity="0.9"/>
<rect x="95" y="331.1" width="14" height="13.6" fill="#d4d4d4" fill-opacity="0.8"/>
<path d="M97.5 333.4l9 9M106.5 333.4l-9 9" stroke="#f3ecf7" stroke-width="1.7" opacity="0.9"/>
<text x="117.4" y="342.0" font-size="11" fill="#333" textLength="39.4" lengthAdjust="spacingAndGlyphs">43.7273</text>
<text x="6.4" y="362.4" font-size="11" fill="#444" textLength="14.8" lengthAdjust="spacingAndGlyphs">RSI</text>
<path d="M26.5 360.0h6.8l-3.4 -3z" fill="#d4d4d4"/>
<rect x="44" y="352.0" width="14" height="13.6" fill="#d4d4d4" fill-opacity="0.8"/>
<g opacity="0.9"><path d="M45.7 358.8Q51.0 351.2 56.3 358.8Q51.0 366.4 45.7 358.8Z" fill="#f3ecf7"/><circle cx="51.0" cy="358.8" r="2.4" fill="#d6d2d9"/><circle cx="51.0" cy="358.8" r="1.05" fill="#f3ecf7"/></g>
<rect x="61" y="352.0" width="14" height="13.6" fill="#d4d4d4" fill-opacity="0.8"/>
<g opacity="0.9"><path d="M70.50 358.80L73.05 358.80M69.77 360.57L71.57 362.37M68.00 361.30L68.00 363.85M66.23 360.57L64.43 362.37M65.50 358.80L62.95 358.80M66.23 357.03L64.43 355.23M68.00 356.30L68.00 353.75M69.77 357.03L71.57 355.23" stroke="#f3ecf7" stroke-width="2.1" fill="none"/><circle cx="68.0" cy="358.8" r="3.6" fill="#f3ecf7"/><circle cx="68.0" cy="358.8" r="1.95" fill="#d6d2d9"/></g>
<rect x="78" y="352.0" width="14" height="13.6" fill="#d4d4d4" fill-opacity="0.8"/>
<path d="M85.0 354.0v9.6M80.2 358.8h9.6" stroke="#f3ecf7" stroke-width="2" opacity="0.9"/>
<rect x="95" y="352.0" width="14" height="13.6" fill="#d4d4d4" fill-opacity="0.8"/>
<path d="M97.5 354.3l9 9M106.5 354.3l-9 9" stroke="#f3ecf7" stroke-width="1.7" opacity="0.9"/>
<text x="117.4" y="362.4" font-size="11" fill="#c3cbc3" textLength="39.4" lengthAdjust="spacingAndGlyphs">30.5077</text>
<path d="M1027.5 387.8L1027.5 403.3L1028.8 403.3L1032.3 400.7L1034.9 405.8L1037.3 404.5L1035.2 399.6L1038.6 398.2Z" fill="#fff" stroke="#1a1a2e" stroke-width="1.1" stroke-linejoin="round"/>
</svg></body></html>
